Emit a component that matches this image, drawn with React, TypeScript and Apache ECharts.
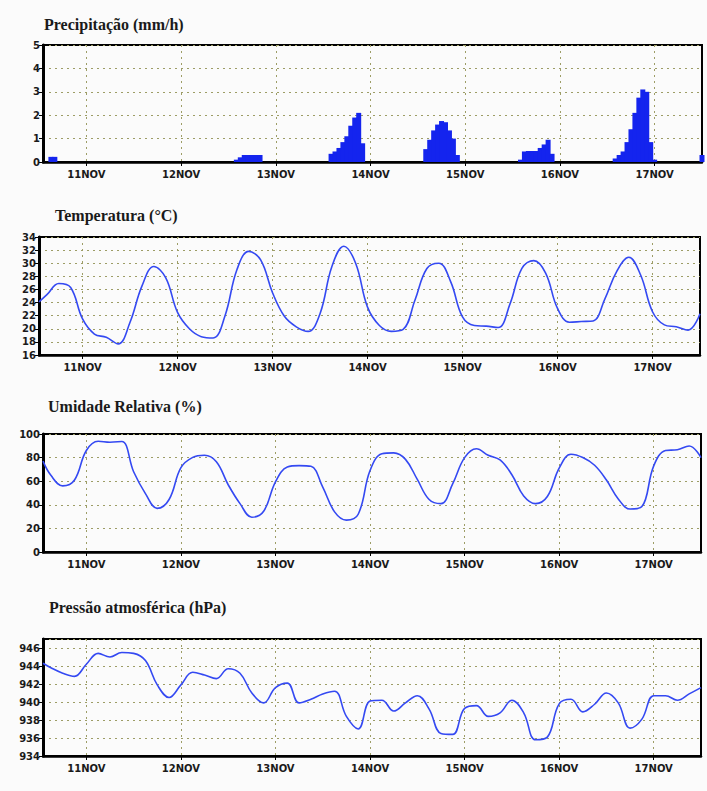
import React, { useEffect, useRef } from "react";
import * as echarts from "echarts";

// hours are counted from 10 NOV 00h
const MONTH = "NOV";
const FIRST_DAY = 10;
const FIRST_HOUR = 13; // left edge: 10 NOV 13h
const LAST_HOUR = 180; // right edge: 17 NOV 12h

const TITLES = [
  "Precipitação (mm/h)",
  "Temperatura (°C)",
  "Umidade Relativa (%)",
  "Pressão atmosférica (hPa)",
];

// sampling hours of the line series: 13h, then every 3 hours from 10 NOV 15h
const SAMPLE_HOURS = [13, ...Array.from({ length: 56 }, (_, i) => 15 + 3 * i)];

const tempValues = [
  24.1, 25.2, 26.9, 26.3, 21.5, 19.2, 18.7, 17.7, 21.0, 26.5, 29.5, 27.8,
  22.5, 20.0, 18.8, 18.6, 22.0, 29.0, 31.8, 30.5, 25.5, 21.9, 20.3, 19.6,
  22.3, 29.5, 32.6, 30.0, 23.3, 20.5, 19.6, 19.9, 24.4, 29.2, 30.0, 27.2,
  21.8, 20.5, 20.4, 20.2, 23.8, 29.2, 30.4, 28.5, 23.1, 21.0, 21.1, 21.2,
  24.6, 28.8, 30.9, 28.2, 22.6, 20.6, 20.3, 19.8, 22.3,
];

const humidityValues = [
  77, 65, 56, 61, 86, 93.8, 93, 93.6, 68, 49.5, 37, 44.5,
  71.5, 80.2, 82, 76.5, 57, 41, 29.5, 34.5, 59.5, 72, 73.2, 72.6,
  55, 34, 27, 32, 69, 83.2, 84, 78.5, 61.5, 44.5, 41, 58,
  80, 87.5, 82, 78, 65.5, 47.5, 41, 47, 71, 82.8, 80, 73.5,
  61, 45, 36.4, 38.5, 73, 86, 86.7, 89.8, 80,
];

const pressureValues = [
  944.3, 943.8, 943.2, 942.85, 944.2, 945.4, 945.0, 945.5, 945.4, 944.6, 941.9, 940.5,
  941.9, 943.3, 943.0, 942.6, 943.7, 943.2, 941.0, 939.9, 941.6, 942.1, 939.9, 940.3,
  940.9, 941.2, 938.4, 937.0, 940.1, 940.2, 939.0, 939.9, 940.7, 939.2, 936.5, 936.4,
  939.3, 939.6, 938.4, 938.8, 940.2, 938.8, 935.8, 936.1, 939.8, 940.3, 938.9, 939.75,
  941.0, 939.9, 937.1, 938.1, 940.7, 940.7, 940.2, 940.9, 941.6,
];

const precipHours = [
  15, 16,
  62, 63, 64, 65, 66, 67, 68,
  86, 87, 88, 89, 90, 91, 92, 93, 94,
  110, 111, 112, 113, 114, 115, 116, 117, 118,
  134, 135, 136, 137, 138, 139, 140, 141, 142,
  158, 159, 160, 161, 162, 163, 164, 165, 166, 167, 168,
  180,
];
const precipValues = [
  0.22, 0.22,
  0.1, 0.2, 0.3, 0.3, 0.3, 0.3, 0.3,
  0.35, 0.45, 0.6, 0.85, 1.1, 1.55, 1.9, 2.1, 0.8,
  0.55, 0.95, 1.35, 1.6, 1.75, 1.7, 1.35, 1.0, 0.3,
  0.1, 0.45, 0.47, 0.47, 0.47, 0.6, 0.75, 0.95, 0.35,
  0.15, 0.3, 0.45, 0.85, 1.4, 2.1, 2.75, 3.1, 3.0, 0.85, 0.1,
  0.3,
];

const Y_AXES = [
  { min: 0, max: 5, interval: 1 },
  { min: 16, max: 34, interval: 2 },
  { min: 0, max: 100, interval: 20 },
  { min: 934, max: 947, interval: 2 },
];

const hourName = (h: number) =>
  `${FIRST_DAY + Math.floor(h / 24)}${MONTH} ${h % 24}h`;

const categories: string[] = [];
for (let h = FIRST_HOUR; h <= LAST_HOUR; h++) categories.push(hourName(h));
const isMidnight = (idx: number) => (FIRST_HOUR + idx) % 24 === 0;

const GRIDS = [
  { left: 43, top: 45, width: 659, height: 117 },
  { left: 39, top: 237, width: 661, height: 118 },
  { left: 43, top: 434, width: 658, height: 118 },
  { left: 43, top: 639, width: 658, height: 117 },
];
const TITLE_POS = [
  [44, 16],
  [55, 207],
  [48, 398],
  [49, 599],
];

const FONT = "'DejaVu Sans', sans-serif";
const GRID_COLOR = "#9d9d66";
const LINE_COLOR = "#3449f2";
const BAR_COLOR = "#1424ee";

export default function App() {
  const ref = useRef<HTMLDivElement>(null);
  useEffect(() => {
    if (!ref.current) return;
    const chart = echarts.init(ref.current, undefined, { renderer: "svg" });
    const lineData = (vals: number[]) =>
      SAMPLE_HOURS.map((h, k) => [hourName(h), vals[k]]);

    const option: any = {
      animation: false,
      backgroundColor: "#fbfbfb",
      title: TITLES.map((t, i) => ({
        text: t,
        left: TITLE_POS[i][0],
        top: TITLE_POS[i][1],
        padding: 0,
        textStyle: {
          fontFamily: "'Liberation Serif', serif",
          fontSize: 16,
          fontWeight: "bold",
          color: "#1a1a1a",
        },
      })),
      grid: GRIDS.map((g) => ({
        ...g,
        show: true,
        borderColor: "#000",
        borderWidth: 2,
        backgroundColor: "transparent",
      })),
      xAxis: GRIDS.map((_, i) => ({
        type: "category",
        gridIndex: i,
        data: categories,
        boundaryGap: false,
        axisLine: { show: true, onZero: false, lineStyle: { color: "#000", width: 2.5 } },
        axisTick: {
          show: true,
          interval: (idx: number) => isMidnight(idx),
          length: 4,
          lineStyle: { color: "#000", width: 1 },
        },
        axisLabel: {
          interval: (idx: number) => isMidnight(idx),
          formatter: (v: string) => v.split(" ")[0],
          margin: 7,
          fontFamily: FONT,
          fontSize: 10,
          fontWeight: "bold",
          color: "#1a1a1a",
        },
        splitLine: {
          show: true,
          interval: (idx: number) => isMidnight(idx),
          lineStyle: { color: GRID_COLOR, type: [2, 4], width: 1 },
        },
      })),
      yAxis: Y_AXES.map((y, i) => ({
        type: "value",
        gridIndex: i,
        min: y.min,
        max: y.max,
        interval: y.interval,
        axisLine: { show: true, lineStyle: { color: "#000", width: 3 } },
        axisTick: { show: true, length: 4, lineStyle: { color: "#000" } },
        axisLabel: {
          margin: 3,
          fontFamily: FONT,
          fontSize: 10,
          fontWeight: "bold",
          color: "#1a1a1a",
          showMaxLabel: i === 3 ? false : true,
        },
        splitLine: { show: true, lineStyle: { color: GRID_COLOR, type: [2, 4], width: 1 } },
      })),
      series: [
        {
          type: "bar",
          xAxisIndex: 0,
          yAxisIndex: 0,
          barWidth: 5,
          silent: true,
          itemStyle: { color: BAR_COLOR },
          data: precipHours.map((h, k) => [hourName(h), precipValues[k]]),
        },
        ...[tempValues, humidityValues, pressureValues].map((vals, k) => ({
          type: "line",
          xAxisIndex: k + 1,
          yAxisIndex: k + 1,
          smooth: 0.4,
          showSymbol: false,
          silent: true,
          lineStyle: { color: LINE_COLOR, width: 1.6 },
          data: lineData(vals),
        })),
      ],
    };
    chart.setOption(option);
    return () => chart.dispose();
  }, []);
  return (
    <div
      ref={ref}
      style={{ position: "absolute", left: 0, top: 0, width: 707, height: 791 }}
    />
  );
}
